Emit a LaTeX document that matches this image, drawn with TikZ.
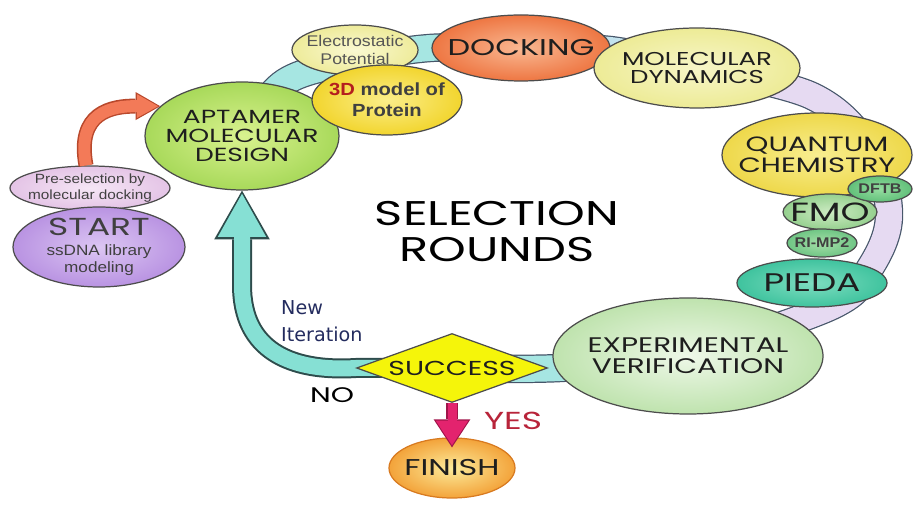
\documentclass[tikz,border=0pt]{standalone}
\usepackage{fontspec}
\setmainfont{Liberation Sans}[FakeStretch=1.15]
\newfontfamily\geo{Poppins}[FakeStretch=1.4]
\newfontfamily\dvs{DejaVu Sans}
\usetikzlibrary{shapes.geometric,arrows.meta}

\newlength{\pxl}
\setlength{\pxl}{0.02cm}

\definecolor{ink}{HTML}{1E1E1E}
\definecolor{bandline}{HTML}{46566A}
\definecolor{ringcyan}{HTML}{A6E6E2}
\definecolor{ringblue}{HTML}{C3E3EE}
\definecolor{ringlav}{HTML}{E6DAF2}
\definecolor{arrcyan}{HTML}{86E0D4}
\definecolor{arrline}{HTML}{2E4C4C}
\definecolor{arrorange}{HTML}{F37A58}
\definecolor{arrorline}{HTML}{B8482C}
\definecolor{arrpink}{HTML}{E3236E}
\definecolor{arrpkline}{HTML}{A0144A}
\definecolor{red3d}{HTML}{B41E1E}
\definecolor{yesred}{HTML}{B8243A}
\definecolor{navy}{HTML}{232B5E}

\pgfdeclarelayer{bg}
\pgfsetlayers{bg,main}

\begin{document}
\begin{tikzpicture}[
    x=0.02cm, y=-0.02cm,
    blob/.style={ellipse, draw=black!70, line width=0.7pt, inner sep=0pt},
    hd/.style 2 args={font=\geo\fontsize{#1}{#2}\selectfont, align=center, text=ink},
    sm/.style 2 args={font=\fontsize{#1}{#2}\selectfont, align=center, text=ink!85},
    band/.style={draw=bandline, line width=0.7pt, double=#1, double distance=26\pxl},
    newitout/.style={draw=arrline, line width=20\pxl, -{Triangle[width=31.7pt,length=27.8pt,line width=0pt]}},
    newitin/.style={draw=arrcyan, line width=16\pxl, -{Triangle[width=27.5pt,length=24.5pt,line width=0pt]}, shorten >=1.8pt},
    preout/.style={draw=arrorline, line width=15\pxl, -{Triangle[width=16pt,length=14pt,line width=0pt]}},
    prein/.style={draw=arrorange, line width=12\pxl, -{Triangle[width=13.5pt,length=12pt,line width=0pt]}, shorten >=1.2pt},
    yesout/.style={draw=arrpkline, line width=12\pxl, -{Triangle[width=21pt,length=16pt,line width=0pt]}, shorten >=-5.7pt},
    yesin/.style={draw=arrpink, line width=9\pxl, -{Triangle[width=18.5pt,length=14pt,line width=0pt]}, shorten >=-4.5pt}
]
\useasboundingbox (0,0) rectangle (914,506);

% start side
\node[blob, inner color={rgb,255:red,245;green,230;blue,245}, outer color={rgb,255:red,228;green,196;blue,230},
      minimum width=160\pxl, minimum height=44\pxl,
      label={[sm={7.6}{9.4}]center:Pre-selection by\\molecular docking}] (pre) at (90,188) {};
\node[blob, inner color={rgb,255:red,220;green,198;blue,243}, outer color={rgb,255:red,185;green,147;blue,226},
      minimum width=172\pxl, minimum height=80\pxl,
      label={[sm={8.5}{10.2}]center:{\geo\fontsize{14}{14}\selectfont START}\\[1pt]ssDNA library\\modeling}] (start) at (99,247) {};

% top of the round
\node[blob, inner color={rgb,255:red,217;green,242;blue,143}, outer color={rgb,255:red,168;green,217;blue,90},
      minimum width=194\pxl, minimum height=108\pxl,
      label={[hd={10.8}{10.8}]center:APTAMER\\MOLECULAR\\DESIGN}] (apt) at (242,136) {};
\node[blob, inner color={rgb,255:red,250;green,249;blue,210}, outer color={rgb,255:red,238;green,235;blue,154},
      minimum width=126\pxl, minimum height=50\pxl,
      label={[sm={8.8}{10.3}, text=ink!75]center:Electrostatic\\Potential}] (elec) at (355,50) {};
\node[blob, inner color={rgb,255:red,251;green,238;blue,138}, outer color={rgb,255:red,242;green,213;blue,46},
      minimum width=150\pxl, minimum height=70\pxl,
      label={[sm={11}{11}, font=\bfseries]center:{\color{red3d}3D} model of\\Protein}] (prot) at (387,100) {};
\node[blob, inner color={rgb,255:red,249;green,184;blue,146}, outer color={rgb,255:red,238;green,118;blue,66},
      minimum width=178\pxl, minimum height=66\pxl,
      label={[hd={13}{13}]center:DOCKING}] (dock) at (521,48) {};
\node[blob, inner color={rgb,255:red,247;green,246;blue,200}, outer color={rgb,255:red,237;green,235;blue,150},
      minimum width=206\pxl, minimum height=80\pxl,
      label={[hd={10.6}{10.6}]center:MOLECULAR\\DYNAMICS}] (md) at (697,68) {};

% right side
\node[blob, inner color={rgb,255:red,248;green,238;blue,144}, outer color={rgb,255:red,238;green,216;blue,74},
      minimum width=190\pxl, minimum height=84\pxl,
      label={[hd={11.8}{11.8}]center:QUANTUM\\CHEMISTRY}] (qc) at (817,155) {};
\node[blob, inner color={rgb,255:red,205;green,235;blue,195}, outer color={rgb,255:red,149;green,208;blue,142},
      minimum width=94\pxl, minimum height=36\pxl,
      label={[hd={15}{15}]center:FMO}] (fmo) at (830,212) {};
\node[blob, inner color={rgb,255:red,149;green,221;blue,160}, outer color={rgb,255:red,98;green,192;blue,122},
      minimum width=64\pxl, minimum height=26\pxl,
      label={[sm={8}{8}]center:\bfseries DFTB}] (dftb) at (880,189) {};
\node[blob, inner color={rgb,255:red,126;green,221;blue,192}, outer color={rgb,255:red,63;green,195;blue,158},
      minimum width=150\pxl, minimum height=48\pxl,
      label={[hd={14.5}{14.5}]center:PIEDA}] (pieda) at (812,283) {};
\node[blob, inner color={rgb,255:red,165;green,223;blue,168}, outer color={rgb,255:red,111;green,197;blue,132},
      minimum width=70\pxl, minimum height=28\pxl,
      label={[sm={8}{8}]center:\bfseries RI-MP2}] (rimp2) at (822,243) {};

% bottom
\node[blob, inner color={rgb,255:red,238;green,248;blue,232}, outer color={rgb,255:red,191;green,227;blue,174},
      minimum width=270\pxl, minimum height=116\pxl,
      label={[hd={12}{12}]center:EXPERIMENTAL\\VERIFICATION}] (exp) at (688,356) {};
\node[diamond, draw=black!70, line width=0.7pt, fill={rgb,255:red,245;green,245;blue,10}, inner sep=0pt,
      minimum width=191\pxl, minimum height=69\pxl,
      label={[hd={11.5}{11.5}]center:SUCCESS}] (succ) at (452,368) {};
\node[blob, draw={rgb,255:red,216;green,122;blue,32}, inner color={rgb,255:red,252;green,235;blue,154}, outer color={rgb,255:red,243;green,163;blue,58},
      minimum width=126\pxl, minimum height=60\pxl,
      label={[hd={13}{13}]center:FINISH}] (fin) at (452,468) {};

% free texts
\node[hd={19.5}{20.5}, text=black] (sel) at (497,232) {SELECTION\\ROUNDS};
\node[font=\dvs\fontsize{10.9}{15.3}\selectfont, text=navy, align=left, anchor=west] (newit) at (275,321) {New\\Iteration};
\node[hd={12}{12}, text=black] (no) at (332,395) {NO};
\node[hd={14}{14}, text=yesred] (yes) at (513,421) {YES};

% arrows
\draw[preout] (pre.100) .. controls (76,112) and (112,106) .. (apt.160);
\draw[prein] (pre.100) .. controls (76,112) and (112,106) .. (apt.160);
\draw[yesout] (succ.south) -- (fin.north);
\draw[yesin] (succ.south) -- (fin.north);

\begin{pgfonlayer}{bg}
% the round
\draw[band=ringcyan] plot[smooth, tension=0.6] coordinates {(apt.center) (285,82) (360,60) (430,48) (dock.center)};
\draw[band=ringblue] plot[smooth, tension=0.6] coordinates {(dock.center) (610,50) (md.center)};
\draw[band=ringlav] plot[smooth, tension=0.6] coordinates {(md.center) (812,96) (870,150) (889,215) (870,268) (832,306) (exp.center)};
\draw[band=ringcyan] plot[smooth, tension=0.6] coordinates {(exp.center) (560,368) (succ.center)};
% back to design
\draw[newitout] (succ.center) -- (succ.west) .. controls (290,372) and (242,350) .. (242,285) -- (apt.south);
\draw[newitin] (succ.center) -- (succ.west) .. controls (290,372) and (242,350) .. (242,285) -- (apt.south);
\end{pgfonlayer}
\end{tikzpicture}
\end{document}
